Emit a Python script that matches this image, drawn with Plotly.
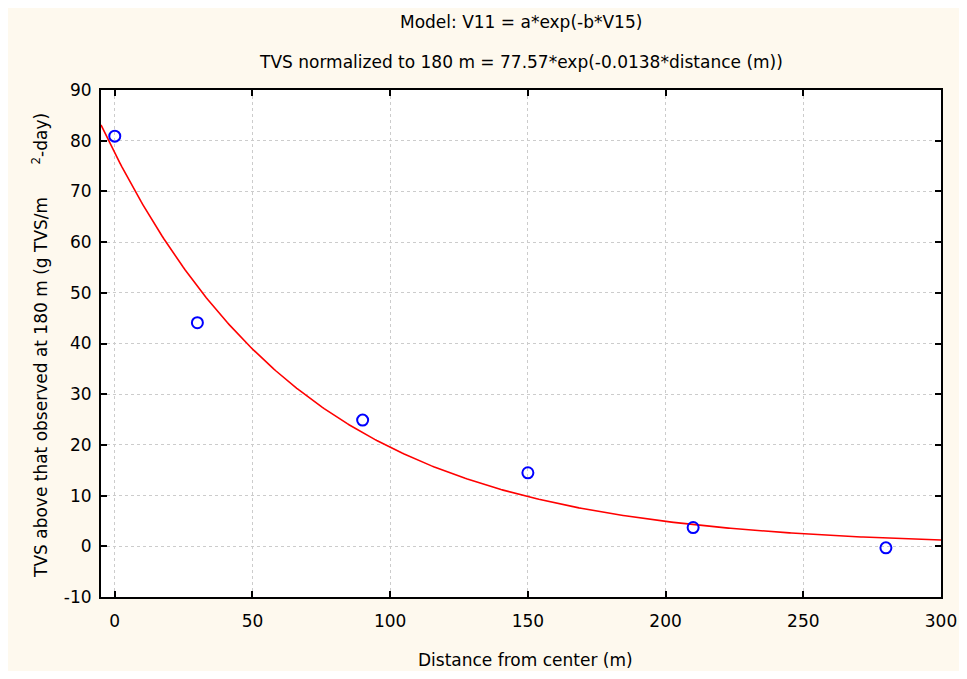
import numpy as np
import plotly.graph_objects as go

# observed data
distance = [0, 30, 90, 150, 210, 280]
tvs = [80.9, 44.1, 24.9, 14.5, 3.7, -0.3]

# fitted model parameters (from title)
a_param = 77.57
b_param = 0.0138

x_ticks = [0, 50, 100, 150, 200, 250, 300]
y_ticks = [-10, 0, 10, 20, 30, 40, 50, 60, 70, 80, 90]

xc = np.linspace(-5, 300, 400)
yc = a_param * np.exp(-b_param * xc)

font = "DejaVu Sans, Liberation Sans, Arial, sans-serif"
cream = "#FEF9EE"

W, H = 951, 663
L, R, T, B = 93, 18, 82, 74
PW, PH = W - L - R, H - T - B

fig = go.Figure()
fig.add_trace(go.Scatter(x=xc, y=yc, mode="lines",
                         line=dict(color="#FF0000", width=1.6),
                         showlegend=False, hoverinfo="skip"))
fig.add_trace(go.Scatter(x=distance, y=tvs, mode="markers",
                         marker=dict(symbol="circle-open", size=11,
                                     color="#0000FF", line=dict(width=2, color="#0000FF")),
                         showlegend=False, cliponaxis=False))

axis_common = dict(showline=True, linecolor="black", linewidth=2, mirror="ticks",
                   ticks="inside", ticklen=6, tickwidth=1.5, tickcolor="black",
                   showgrid=True, gridcolor="#CCCCCC", griddash="dot", gridwidth=1,
                   zeroline=False, ticklabeloverflow="allow", automargin=False,
                   tickfont=dict(family=font, size=17, color="black"))

fig.update_xaxes(range=[-5, 300], tickvals=x_ticks, ticktext=[str(v) for v in x_ticks],
                 ticklabelstandoff=8, **axis_common)
fig.update_yaxes(range=[-10, 90], tickvals=y_ticks, ticktext=[str(v) for v in y_ticks],
                 ticklabelstandoff=4, **axis_common)

tfont = dict(family=font, size=17, color="black")
fig.add_annotation(text="Model: V11 = a*exp(-b*V15)", xref="paper", yref="paper",
                   x=0.5, y=1 + (T - 14) / PH, showarrow=False, font=tfont, yanchor="middle")
fig.add_annotation(text="TVS normalized to 180 m = 77.57*exp(-0.0138*distance (m))",
                   xref="paper", yref="paper",
                   x=0.5, y=1 + (T - 54) / PH, showarrow=False, font=tfont, yanchor="middle")
fig.add_annotation(text="Distance from center (m)", xref="paper", yref="paper",
                   x=(525 - 8 - L) / PW, y=-(652 - (H - B)) / PH, showarrow=False,
                   font=tfont, yanchor="middle")
fig.add_annotation(text="TVS above that observed at 180 m (g TVS/m" + "\u00a0" * 6 + "<sup>2</sup>-day)",
                   xref="paper", yref="paper", textangle=-90,
                   x=(32 - L) / PW, y=(H - B - 338) / PH, showarrow=False,
                   font=tfont, xanchor="center", yanchor="middle")

fig.update_layout(width=W, height=H, autosize=False, margin=dict(l=L, r=R, t=T, b=B, pad=0),
                  paper_bgcolor=cream, plot_bgcolor="white", showlegend=False)

fig.write_html("out.html")
